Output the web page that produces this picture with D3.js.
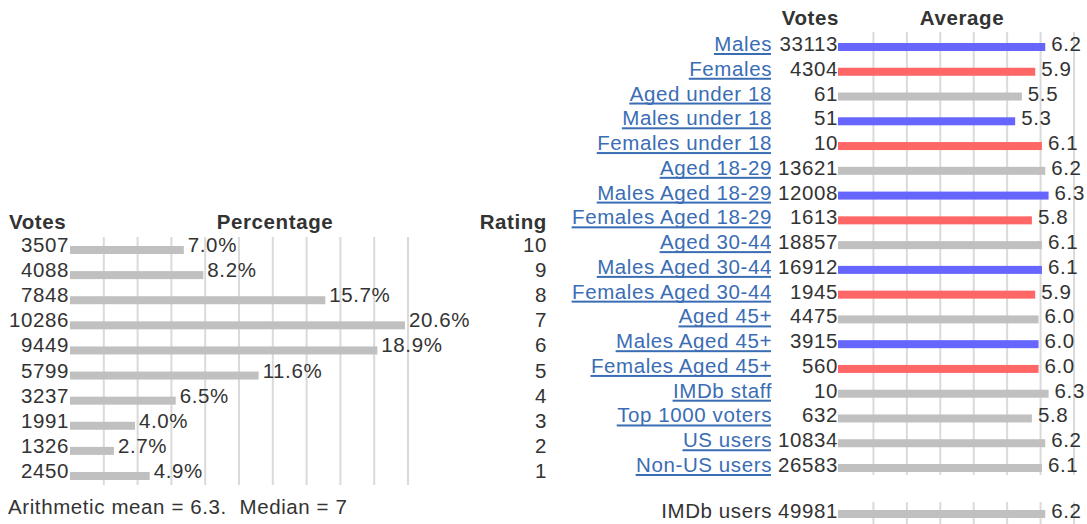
<!DOCTYPE html>
<html>
<head>
<meta charset="utf-8">
<script src="https://cdn.jsdelivr.net/npm/d3@7"></script>
<style>
  html, body { margin: 0; padding: 0; background: #fff; }
  svg { display: block; }
  text { font-family: "Liberation Sans", Arial, sans-serif; fill: #333; letter-spacing: 0.6px; }
</style>
</head>
<body>
<svg id="chart" width="1087" height="524"></svg>
<script>
// Rating histogram (left)
const ratings = [10, 9, 8, 7, 6, 5, 4, 3, 2, 1];
const ratingVotes = [3507, 4088, 7848, 10286, 9449, 5799, 3237, 1991, 1326, 2450];
const ratingPct = [7.0, 8.2, 15.7, 20.6, 18.9, 11.6, 6.5, 4.0, 2.7, 4.9];
const summaryText = "Arithmetic mean = 6.3.\u00a0 Median = 7";

// Demographic breakdown (right)
const groups = ["Males", "Females", "Aged under 18", "Males under 18", "Females under 18",
  "Aged 18-29", "Males Aged 18-29", "Females Aged 18-29", "Aged 30-44", "Males Aged 30-44",
  "Females Aged 30-44", "Aged 45+", "Males Aged 45+", "Females Aged 45+", "IMDb staff",
  "Top 1000 voters", "US users", "Non-US users"];
const groupVotes = [33113, 4304, 61, 51, 10, 13621, 12008, 1613, 18857, 16912, 1945, 4475,
  3915, 560, 10, 632, 10834, 26583];
const groupAverage = [6.2, 5.9, 5.5, 5.3, 6.1, 6.2, 6.3, 5.8, 6.1, 6.1, 5.9, 6.0, 6.0, 6.0,
  6.3, 5.8, 6.2, 6.1];
const groupKind = ["m", "f", "a", "m", "f", "a", "m", "f", "a", "m", "f", "a", "m", "f",
  "a", "a", "a", "a"];
const overallLabel = "IMDb users";
const overallVotes = 49981;
const overallAverage = 6.2;

const colors = { m: "#6666ff", f: "#ff6666", a: "#c0c0c0" };
const gridColor = "#dadada";
const linkColor = "#3a6db4";
const FS = 20.5;

const svg = d3.select("#chart");

// ---------- left: histogram ----------
const L = { x0: 70, width: 338, top: 237, bottom: 485 };
const xPct = d3.scaleLinear().domain([0, 20.6]).range([L.x0, L.x0 + 335]);
const yRate = d3.scalePoint().domain(ratings).range([252, 478]);

const left = svg.append("g");
// vertical gridlines (ten equal divisions)
left.selectAll("rect.grid").data(d3.range(1, 11)).join("rect")
  .attr("class", "grid")
  .attr("x", k => L.x0 + k * L.width / 10 - 1)
  .attr("y", L.top).attr("width", 2).attr("height", L.bottom - L.top)
  .attr("fill", gridColor);

left.append("text").attr("x", 9).attr("y", 229)
  .attr("font-weight", "bold").attr("font-size", FS).text("Votes");
left.append("text").attr("x", 275).attr("y", 229).attr("text-anchor", "middle")
  .attr("font-weight", "bold").attr("font-size", FS).text("Percentage");
left.append("text").attr("x", 547).attr("y", 229).attr("text-anchor", "end")
  .attr("font-weight", "bold").attr("font-size", FS).text("Rating");

const rows = left.selectAll("g.row").data(ratings.map((r, i) => ({
  r, v: ratingVotes[i], p: ratingPct[i] }))).join("g").attr("class", "row");
rows.append("rect")
  .attr("x", xPct(0)).attr("y", d => yRate(d.r) - 6)
  .attr("width", d => xPct(d.p) - xPct(0)).attr("height", 8)
  .attr("fill", colors.a);
rows.append("text").attr("x", 69).attr("y", d => yRate(d.r))
  .attr("text-anchor", "end").attr("font-size", FS).text(d => d.v);
rows.append("text").attr("x", d => xPct(d.p) + 4).attr("y", d => yRate(d.r))
  .attr("font-size", FS).text(d => d.p.toFixed(1) + "%");
rows.append("text").attr("x", 547).attr("y", d => yRate(d.r))
  .attr("text-anchor", "end").attr("font-size", FS).text(d => d.r);

left.append("text").attr("x", 8).attr("y", 514).attr("font-size", FS).text(summaryText);

// ---------- right: breakdown ----------
const xAvg = d3.scaleLinear().domain([0, 7]).range([838, 1072]);
const yGrp = d3.scalePoint().domain(groups).range([51, 472]);
const overallY = 518;

const right = svg.append("g");
right.selectAll("rect.grid").data(d3.range(1, 8)).join("rect")
  .attr("class", "grid")
  .attr("x", k => xAvg(k) + 1).attr("y", 32).attr("width", 2).attr("height", 475 - 32)
  .attr("fill", gridColor);
right.selectAll("rect.grid2").data(d3.range(1, 8)).join("rect")
  .attr("class", "grid2")
  .attr("x", k => xAvg(k) + 1).attr("y", 502).attr("width", 2).attr("height", 22)
  .attr("fill", gridColor);

right.append("text").attr("x", 839).attr("y", 25).attr("text-anchor", "end")
  .attr("font-weight", "bold").attr("font-size", FS).text("Votes");
right.append("text").attr("x", 962).attr("y", 25).attr("text-anchor", "middle")
  .attr("font-weight", "bold").attr("font-size", FS).text("Average");

const gRows = right.selectAll("g.grp").data(groups.map((g, i) => ({
  g, v: groupVotes[i], a: groupAverage[i], k: groupKind[i] }))).join("g").attr("class", "grp");
gRows.append("rect")
  .attr("x", xAvg(0)).attr("y", d => yGrp(d.g) - 8)
  .attr("width", d => xAvg(d.a) - xAvg(0)).attr("height", 8)
  .attr("fill", d => colors[d.k]);
gRows.append("text").attr("x", 838).attr("y", d => yGrp(d.g))
  .attr("text-anchor", "end").attr("font-size", FS).text(d => d.v);
gRows.append("text").attr("x", d => xAvg(d.a) + 6).attr("y", d => yGrp(d.g))
  .attr("font-size", FS).text(d => d.a.toFixed(1));
const links = gRows.append("text").attr("x", 772).attr("y", d => yGrp(d.g))
  .attr("text-anchor", "end").attr("font-size", FS)
  .style("fill", linkColor).text(d => d.g);
// underline each link
links.each(function(d) {
  const w = this.getComputedTextLength() - 0.6;
  d3.select(this.parentNode).append("rect")
    .attr("x", 771 - w).attr("y", yGrp(d.g) + 2)
    .attr("width", w).attr("height", 2).attr("fill", linkColor);
});

// overall row
right.append("rect").attr("x", xAvg(0)).attr("y", overallY - 8)
  .attr("width", xAvg(overallAverage) - xAvg(0)).attr("height", 8).attr("fill", colors.a);
right.append("text").attr("x", 772).attr("y", overallY).attr("text-anchor", "end")
  .attr("font-size", FS).text(overallLabel);
right.append("text").attr("x", 838).attr("y", overallY).attr("text-anchor", "end")
  .attr("font-size", FS).text(overallVotes);
right.append("text").attr("x", xAvg(overallAverage) + 6).attr("y", overallY)
  .attr("font-size", FS).text(overallAverage.toFixed(1));
</script>
</body>
</html>
